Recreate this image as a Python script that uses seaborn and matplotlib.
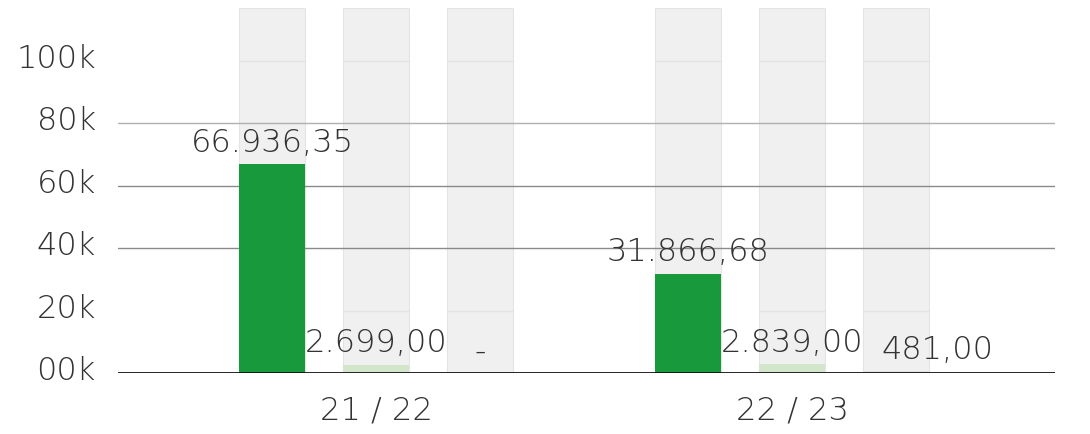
import numpy as np
import pandas as pd
import matplotlib
matplotlib.use("Agg")
import matplotlib.pyplot as plt
import matplotlib.transforms as mtransforms
from matplotlib.ticker import FuncFormatter
import seaborn as sns

### chart values
seasons = ["21 / 22", "22 / 23"]
series = ["s1", "s2", "s3"]
values_s1 = [66936.35, 31866.68]
values_s2 = [2699.00, 2839.00]
values_s3 = [np.nan, 481.00]
y_ticks = [0, 20000, 40000, 60000, 80000, 100000]
y_top = 117000

sns.set_style("white")
plt.rcParams["font.family"] = ["DejaVu Sans"]
plt.rcParams["font.weight"] = "light"

def de_number(v):
    ### german style number, "-" when missing
    if pd.isna(v):
        return "-"
    s = f"{v:,.2f}"
    return s.replace(",", "X").replace(".", ",").replace("X", ".")

rows = []
for name, vals in zip(series, [values_s1, values_s2, values_s3]):
    for season, v in zip(seasons, vals):
        rows.append({"season": season, "series": name, "value": v})
df = pd.DataFrame(rows)
df_bg = df.copy()
df_bg["value"] = y_top

fig = plt.figure(figsize=(10.9, 4.34), dpi=100)
ax = fig.add_axes([118 / 1090, 61 / 434, (1055 - 118) / 1090, (373 - 8) / 434])

### gray background columns
sns.barplot(data=df_bg, x="season", y="value", hue="series", order=seasons,
            hue_order=series, palette=["#f0f0f0"] * 3, saturation=1,
            width=0.75, gap=0.36, legend=False, ax=ax, zorder=1,
            edgecolor="#e4e4e4", linewidth=0.8, errorbar=None)
bg_patches = list(ax.patches)
### real bars
sns.barplot(data=df, x="season", y="value", hue="series", order=seasons,
            hue_order=series, palette=["#18993b", "#d3e6cc", "#e0e0e0"],
            saturation=1, width=0.75, gap=0.36, legend=False, ax=ax, zorder=3,
            linewidth=0, errorbar=None)

### grid lines: dark ones across, faint ones only inside the columns
grid_colors = {0: "#111111", 40000: "#8a8a8a", 60000: "#8a8a8a", 80000: "#b0b0b0"}
for t, c in grid_colors.items():
    ax.axhline(t, color=c, lw=2.0 if t == 0 else 1.0, zorder=4 if t == 0 else 2)
for p in bg_patches:
    ax.hlines([20000, 100000], p.get_x(), p.get_x() + p.get_width(),
              color="#e3e3e3", lw=1.0, zorder=1.5)

ax.set_ylim(0, y_top)
ax.set_xlim(-0.62, 1.632)
ax.set_yticks(y_ticks)
ax.yaxis.set_major_formatter(FuncFormatter(lambda v, p: f"{int(v / 1000):02d}k"))
ax.tick_params(axis="y", length=0, pad=16, labelsize=23, labelcolor="#333333")
ax.tick_params(axis="x", length=0, pad=16, labelsize=23, labelcolor="#333333")
offset = mtransforms.ScaledTranslation(0, 5 / 100, fig.dpi_scale_trans)
for lab in ax.get_yticklabels():
    lab.set_transform(lab.get_transform() + offset)
for s in ax.spines.values():
    s.set_visible(False)
ax.set_xlabel("")
ax.set_ylabel("")

### value labels
texts = []
for j, vals in enumerate([values_s1, values_s2, values_s3]):
    for i, v in enumerate(vals):
        x = i + (j - 1) * 0.25
        y = 0 if pd.isna(v) else v
        t = ax.annotate(de_number(v), (x, y), xytext=(0, 9), textcoords="offset points",
                        ha="center", va="baseline", fontsize=23, color="#333333",
                        zorder=5)
        texts.append((i, j, t))

### push a label right when it runs into its neighbour
fig.canvas.draw()
renderer = fig.canvas.get_renderer()
for i in range(len(seasons)):
    row = [t for (gi, j, t) in sorted(texts, key=lambda a: a[1]) if gi == i]
    for a, b in zip(row[:-1], row[1:]):
        ba = a.get_window_extent(renderer)
        bb = b.get_window_extent(renderer)
        if bb.x0 < ba.x1 + 18 and bb.y0 < ba.y1 and ba.y0 < bb.y1:
            shift = (ba.x1 + 18 - bb.x0) * 72 / fig.dpi
            b.xyann = (b.xyann[0] + shift, b.xyann[1])

fig.savefig("out.png", dpi=100)
